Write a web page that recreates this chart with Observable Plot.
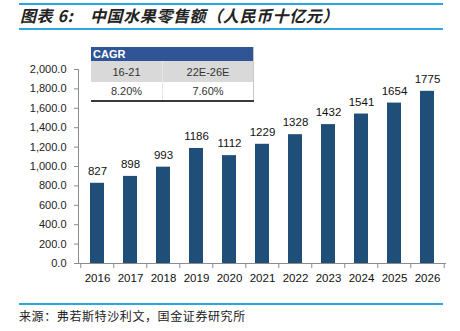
<!DOCTYPE html>
<html><head><meta charset="utf-8">
<script src="https://cdn.jsdelivr.net/npm/d3@7"></script>
<script src="https://cdn.jsdelivr.net/npm/@observablehq/plot@0.6"></script>
<style>
body{margin:0;background:#fff;}
#wrap{position:relative;width:460px;height:331px;overflow:hidden;font-family:"Liberation Sans",Arial,sans-serif;}
.rule{position:absolute;left:19px;width:424px;height:2px;background:#29a8e0;}
#title{position:absolute;left:20px;top:5px;font-family:"Noto Sans CJK SC",sans-serif;font-size:16px;font-weight:bold;font-style:italic;letter-spacing:0.6px;color:#222;white-space:pre;line-height:20px;}
#title span.l{display:inline-block;width:70px;}
#source{position:absolute;left:19px;top:308px;font-family:"Noto Sans CJK SC",sans-serif;font-size:12px;letter-spacing:0.6px;color:#222;white-space:pre;line-height:16px;}
#chart{position:absolute;left:0;top:0;}
#cagr{position:absolute;left:91px;top:47px;width:163px;border-collapse:collapse;font-family:"Liberation Sans Narrow","Liberation Sans",sans-serif;font-size:11px;color:#333;border-bottom:2px solid #3a3a3a;border-right:1px solid #c8c8c8;}
#cagr td{padding:0;text-align:center;}
#cagr tr.h td{background:#2f5597;color:#fff;font-weight:bold;text-align:left;padding-left:2px;height:14px;}
#cagr tr.r1 td{background:#d9d9d9;height:21px;}
#cagr tr.r2 td{background:#fff;height:18px;}
#cagr td.c1{width:71px;border-right:1px solid #e6e6e6;}
</style></head><body>
<div id="wrap">
  <div class="rule" style="top:3px"></div>
  <div id="title"><span class="l"></span><span class="m"></span></div>
  <div class="rule" style="top:28px"></div>
  <div id="chart"></div>
  <table id="cagr"></table>
  <div class="rule" style="top:303px"></div>
  <div id="source"></div>
</div>
<script>
const titleLabel = "图表 6:";
const titleText = "中国水果零售额（人民币十亿元）";
const sourceText = "来源：弗若斯特沙利文，国金证券研究所";
const years = ["2016","2017","2018","2019","2020","2021","2022","2023","2024","2025","2026"];
const values = [827, 898, 993, 1186, 1112, 1229, 1328, 1432, 1541, 1654, 1775];
const yTicks = [0, 200, 400, 600, 800, 1000, 1200, 1400, 1600, 1800, 2000];
const cagrHeader = "CAGR";
const cagrPeriods = ["16-21", "22E-26E"];
const cagrValues = ["8.20%", "7.60%"];

document.querySelector("#title .l").textContent = titleLabel;
document.querySelector("#title .m").textContent = titleText;
document.getElementById("source").textContent = sourceText;

// table
const tbl = document.getElementById("cagr");
const h = tbl.insertRow(); h.className = "h";
const hc = h.insertCell(); hc.colSpan = 2; hc.textContent = cagrHeader;
const r1 = tbl.insertRow(); r1.className = "r1";
cagrPeriods.forEach((p, i) => { const c = r1.insertCell(); c.textContent = p; if (i === 0) c.className = "c1"; });
const r2 = tbl.insertRow(); r2.className = "r2";
cagrValues.forEach((p, i) => { const c = r2.insertCell(); c.textContent = p; if (i === 0) c.className = "c1"; });

const W = 460, H = 331, mL = 78, mR = 14, mT = 69, mB = 68;
const step = (W - mL - mR) / years.length;
const data = years.map((y, i) => ({year: y, value: values[i]}));
const axisColor = "#8c8c8c";

const chart = Plot.plot({
  width: W, height: H,
  marginLeft: mL, marginRight: mR, marginTop: mT, marginBottom: mB,
  style: {fontFamily: "'Liberation Sans', Arial, sans-serif", fontSize: "11px", color: "#222", background: "transparent", overflow: "visible"},
  x: {domain: years, paddingInner: 0.57, paddingOuter: 0.285},
  y: {domain: [0, 2000]},
  marks: [
    Plot.barY(data, {x: "year", y: "value", fill: "#1F4E79"}),
    Plot.text(data, {x: "year", y: "value", text: d => String(d.value), dy: -12, fontSize: 11.5, fill: "#111"}),
    Plot.frame({anchor: "left", stroke: axisColor}),
    Plot.ruleY([0], {stroke: axisColor}),
    Plot.axisY(yTicks, {tickFormat: d3.format(",.1f"), tickSize: 4, tickPadding: 8, stroke: axisColor, fill: "#222", label: null, fontSize: 11}),
    Plot.axisX({tickSize: 0, tickPadding: 10, fill: "#111", label: null, fontSize: 11.5}),
    Plot.axisX({tickSize: 5, dx: -step / 2, tickFormat: () => "", stroke: axisColor, label: null}),
    Plot.axisX([years[years.length - 1]], {tickSize: 5, dx: step / 2, tickFormat: () => "", stroke: axisColor, label: null})
  ]
});
document.getElementById("chart").appendChild(chart);
</script>
</body></html>
